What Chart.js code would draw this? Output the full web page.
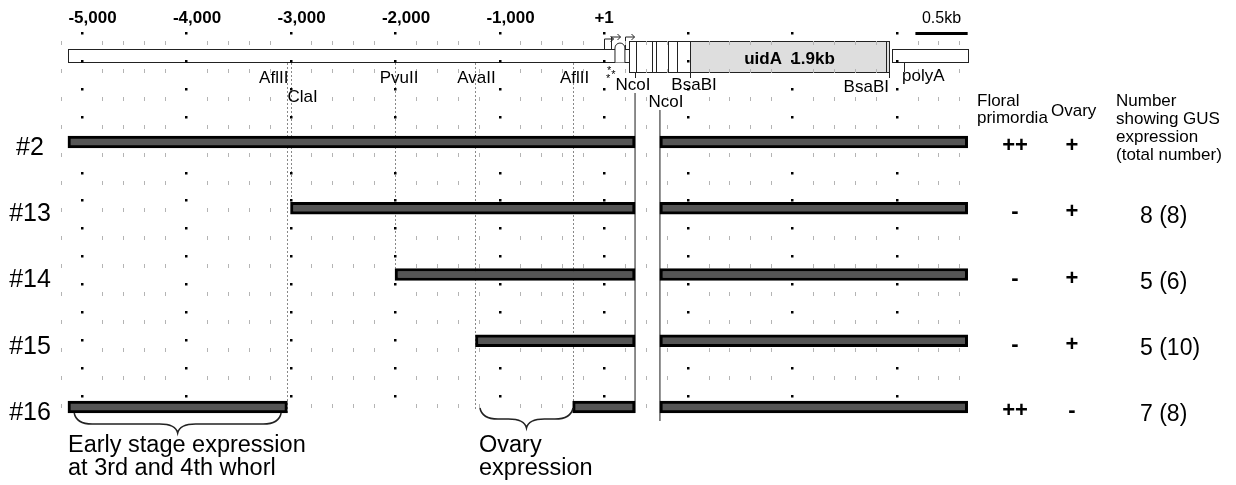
<!DOCTYPE html>
<html>
<head>
<meta charset="utf-8">
<script src="https://cdn.jsdelivr.net/npm/chart.js@4.4.1/dist/chart.umd.min.js"></script>
<style>
  html, body { margin: 0; padding: 0; background: #fff; }
  #wrap { width: 1236px; height: 485px; position: relative; }
</style>
</head>
<body>
<div id="wrap"><canvas id="chart"></canvas></div>
<script>
const FONT = 'Arial, "Liberation Sans", Helvetica, sans-serif';

// all positions in bp, relative to the transcription start (+1)
const tickValues = [-5000, -4000, -3000, -2000, -1000, 1];
const tickLabels = ['-5,000', '-4,000', '-3,000', '-2,000', '-1,000', '+1'];
const majorGrid = [-5000, -4000, -3000, -2000, -1000, 0, 800, 1800, 2800];

const rows = ['#2', '#13', '#14', '#15', '#16'];
const rowPos = [1, 2, 3, 4, 5];
const mapRow = -0.3;

// promoter pieces (#16 carries two)
const fragRow = [0, 1, 2, 3, 4, 4];
const fragStart = [-5130, -3000, -2000, -1230, -5130, -300];
const fragEnd = [297, 297, 297, 297, -3030, 297];

// uidA + terminator part of each construct
const gusStart = [535, 535, 535, 535, 535];
const gusEnd = [3480, 3480, 3480, 3480, 3480];

const floral = ['++', '-', '-', '-', '++'];
const ovary = ['+', '+', '+', '+', '-'];
const gusCount = ['', '8 (8)', '5 (6)', '5 (10)', '7 (8)'];

// restriction map
const siteNames = ['AflII', 'ClaI', 'PvuII', 'AvaII', 'AflII', 'NcoI', 'NcoI', 'BsaBI', 'BsaBI', 'polyA'];
const sitePos = [-3030, -3000, -2000, -1230, -300, 297, 535, 823, 2727, 2871];
const mapPromoter = [-5130, 240];
const mapGus = [240, 2727];
const mapGusShaded = [823, 2727];
const mapStripes = [306, 459, 498, 612, 699, 2699];
const mapPolyA = [2756, 3480];
const scaleBar = [2980, 3480];

const braceEarly = [-5070, -3090];
const braceOvary = [-1187, -297];

// label placement for the sites: [dx, dy, align]
const siteLabelPlace = [
  [1, 22, 'right'], [-3, 41, 'left'], [4, 22, 'center'], [1, 22, 'center'], [2, 22, 'center'],
  [-2, 29, 'center'], [6, 46, 'center'], [4, 29, 'center'], [0, 31, 'right'], [-2, 20, 'left']
];

function brace(ctx, x1, x2, y0, h) {
  const xm = (x1 + x2) / 2, ym = y0 + h * 0.55, r = Math.min(18, (x2 - x1) / 5);
  ctx.beginPath();
  ctx.moveTo(x1, y0);
  ctx.quadraticCurveTo(x1 + 2, ym, x1 + r, ym);
  ctx.lineTo(xm - r, ym);
  ctx.quadraticCurveTo(xm - 2, ym, xm, y0 + h);
  ctx.quadraticCurveTo(xm + 2, ym, xm + r, ym);
  ctx.lineTo(x2 - r, ym);
  ctx.quadraticCurveTo(x2 - 2, ym, x2, y0);
  ctx.stroke();
}

const drawing = {
  id: 'drawing',
  beforeDatasetsDraw(chart) {
    const { ctx, scales: { x, y } } = chart;
    const px = v => x.getPixelForValue(v);
    const cy = Math.round(y.getPixelForValue(mapRow));
    const rowY = i => y.getPixelForValue(rowPos[i]);
    ctx.save();

    // dashed lines dropped from the sites to the constructs
    const ends = [rowY(4) + 6, rowY(1) - 6, rowY(2) - 6, rowY(4) + 3, rowY(4) - 6];
    ctx.strokeStyle = '#888';
    ctx.lineWidth = 1;
    ctx.setLineDash([2, 2]);
    ends.forEach((e, i) => {
      const xp = Math.round(px(sitePos[i])) + 0.5;
      ctx.beginPath(); ctx.moveTo(xp, cy + 7); ctx.lineTo(xp, e); ctx.stroke();
    });
    ctx.setLineDash([]);

    // NcoI cut lines
    ctx.strokeStyle = '#666';
    ctx.lineWidth = 1.5;
    let xp = px(sitePos[5]);
    ctx.beginPath(); ctx.moveTo(xp, cy + 37); ctx.lineTo(xp, rowY(4) + 6); ctx.stroke();
    xp = px(sitePos[6]);
    ctx.beginPath(); ctx.moveTo(xp, cy + 54); ctx.lineTo(xp, rowY(4) + 14); ctx.stroke();

    // construct map
    ctx.strokeStyle = '#222';
    ctx.lineWidth = 1;
    const rect = (a, b, t, bt, fill) => {
      const x1 = Math.round(px(a)) + 0.5, x2 = Math.round(px(b)) + 0.5;
      ctx.fillStyle = fill;
      ctx.fillRect(x1, cy + t + 0.5, x2 - x1, bt - t);
      ctx.strokeRect(x1, cy + t + 0.5, x2 - x1, bt - t);
    };
    rect(mapPromoter[0], mapPromoter[1], -7, 6, '#fff');
    rect(mapGus[0], mapGus[1], -15, 16, '#fff');
    rect(mapGusShaded[0], mapGusShaded[1], -15, 16, '#dedede');
    rect(mapPolyA[0], mapPolyA[1], -7, 6, '#fff');
    mapStripes.forEach(v => {
      const s = Math.round(px(v)) + 0.5;
      ctx.beginPath(); ctx.moveTo(s, cy - 14.5); ctx.lineTo(s, cy + 16.5); ctx.stroke();
    });
    // small leader exon hump
    const h1 = px(105), h2 = px(200);
    ctx.fillStyle = '#fff';
    ctx.beginPath();
    ctx.moveTo(h1, cy + 6.5); ctx.lineTo(h1, cy - 8);
    ctx.arc((h1 + h2) / 2, cy - 8, (h2 - h1) / 2, Math.PI, 0);
    ctx.lineTo(h2, cy + 6.5); ctx.fill(); ctx.stroke();
    // transcription start arrows
    [[0, -17], [70, -19], [200, -19]].forEach(([v, top]) => {
      const ax = Math.round(px(v)) + 0.5;
      ctx.beginPath(); ctx.moveTo(ax, cy - 7); ctx.lineTo(ax, cy + top); ctx.lineTo(ax + 9, cy + top); ctx.stroke();
      ctx.beginPath(); ctx.moveTo(ax + 6, cy + top - 3); ctx.lineTo(ax + 9, cy + top); ctx.lineTo(ax + 6, cy + top + 3); ctx.stroke();
    });
    // site ticks below the map
    [5, 7, 8].forEach(i => {
      const s = Math.round(px(sitePos[i])) + 0.5;
      ctx.beginPath(); ctx.moveTo(s, cy + 16); ctx.lineTo(s, cy + 22); ctx.stroke();
    });
    let s = Math.round(px(sitePos[9])) + 0.5;
    ctx.beginPath(); ctx.moveTo(s, cy + 6); ctx.lineTo(s, cy + 16); ctx.stroke();

    // dotted background grid
    const gTop = cy - 23, gStep = 27.9, gCount = 14;
    ctx.fillStyle = '#b4b4b4';
    for (let v = -5200; v <= 3400; v += 200) {
      if (majorGrid.includes(v)) continue;
      const gx = Math.round(px(v));
      for (let k = 0; k < gCount; k++) ctx.fillRect(gx, Math.round(gTop + 10 + k * gStep) - 2, 1, 4);
    }
    ctx.fillStyle = '#000';
    majorGrid.forEach(v => {
      const gx = px(v);
      for (let k = 0; k < gCount; k++) ctx.fillRect(Math.round(gx) - 1, Math.round(gTop + k * gStep) - 1, 2.5, 2.5);
    });
    ctx.restore();
  },
  afterDatasetsDraw(chart) {
    const { ctx, scales: { x, y } } = chart;
    const px = v => x.getPixelForValue(v);
    const cy = Math.round(y.getPixelForValue(mapRow));
    ctx.save();
    ctx.fillStyle = '#000';
    ctx.textBaseline = 'middle';

    // position axis labels (set slightly right of their dots, as in the figure)
    ctx.font = 'bold 17px ' + FONT;
    ctx.textAlign = 'center';
    tickValues.forEach((v, i) => ctx.fillText(tickLabels[i], px(v) + (i < 5 ? 11 : 0), 18));

    // site labels
    ctx.font = '17px ' + FONT;
    siteNames.forEach((n, i) => {
      const [dx, dy, al] = siteLabelPlace[i];
      ctx.textAlign = al;
      ctx.fillText(n, px(sitePos[i]) + dx, cy + dy);
    });
    // asterisks near +1
    ctx.font = '11px ' + FONT;
    ctx.textAlign = 'center';
    ctx.fillText('*', px(50), cy + 15);
    ctx.fillText('*', px(90), cy + 19);
    ctx.fillText('*', px(40), cy + 23);

    ctx.font = 'bold 17px ' + FONT;
    ctx.fillText('uidA  1.9kb', px((mapGusShaded[0] + mapGusShaded[1]) / 2), cy + 3);

    // scale bar
    ctx.font = '16px ' + FONT;
    ctx.fillText('0.5kb', px((scaleBar[0] + scaleBar[1]) / 2), 19);
    ctx.fillRect(px(scaleBar[0]), 32, px(scaleBar[1]) - px(scaleBar[0]), 3);

    // row labels and scores
    rows.forEach((r, i) => {
      const ry = y.getPixelForValue(rowPos[i]);
      ctx.font = '25px ' + FONT;
      ctx.textAlign = 'center';
      ctx.fillText(r, 30, ry + 6);
      ctx.font = 'bold 22px ' + FONT;
      ctx.fillText(floral[i], 1015, ry + 4);
      ctx.fillText(ovary[i], 1072, ry + 4);
      ctx.font = '23px ' + FONT;
      ctx.textAlign = 'left';
      ctx.fillText(gusCount[i], 1140, ry + 8);
    });

    // column headers
    ctx.font = '17px ' + FONT;
    ctx.textAlign = 'left';
    ctx.fillText('Floral', 977, 101);
    ctx.fillText('primordia', 977, 118);
    ctx.fillText('Ovary', 1051, 111);
    ['Number', 'showing GUS', 'expression', '(total number)'].forEach((t, k) => ctx.fillText(t, 1116, 101 + k * 18));

    // braces and notes
    ctx.strokeStyle = '#222';
    ctx.lineWidth = 1.5;
    brace(ctx, px(braceEarly[0]), px(braceEarly[1]), 413, 20);
    brace(ctx, px(braceOvary[0]), px(braceOvary[1]), 408, 20);
    ctx.font = '23.5px ' + FONT;
    ctx.fillText('Early stage expression', 68, 446);
    ctx.fillText('at 3rd and 4th whorl', 68, 469);
    ctx.fillText('Ovary', 479, 446);
    ctx.fillText('expression', 479, 469);
    ctx.restore();
  }
};

const barStyle = {
  backgroundColor: '#555',
  borderColor: '#000',
  borderWidth: 3,
  borderSkipped: false,
  barThickness: 12
};

new Chart(document.getElementById('chart'), {
  type: 'bar',
  data: {
    datasets: [
      Object.assign({
        label: 'promoter',
        data: fragRow.map((r, i) => ({ x: [fragStart[i], fragEnd[i]], y: rowPos[r] }))
      }, barStyle),
      Object.assign({
        label: 'uidA',
        data: rows.map((r, i) => ({ x: [gusStart[i], gusEnd[i]], y: rowPos[i] }))
      }, barStyle)
    ]
  },
  options: {
    indexAxis: 'y',
    responsive: true,
    maintainAspectRatio: false,
    animation: false,
    grouped: false,
    layout: { padding: { left: 55.4, right: 266.25, top: 29.4, bottom: 5.1 } },
    plugins: { legend: { display: false }, tooltip: { enabled: false } },
    scales: {
      x: {
        type: 'linear',
        min: -5250,
        max: 3500,
        display: false
      },
      y: {
        type: 'linear',
        reverse: true,
        offset: false,
        min: -0.7,
        max: 6.1,
        display: false
      }
    }
  },
  plugins: [drawing]
});
</script>
</body>
</html>
